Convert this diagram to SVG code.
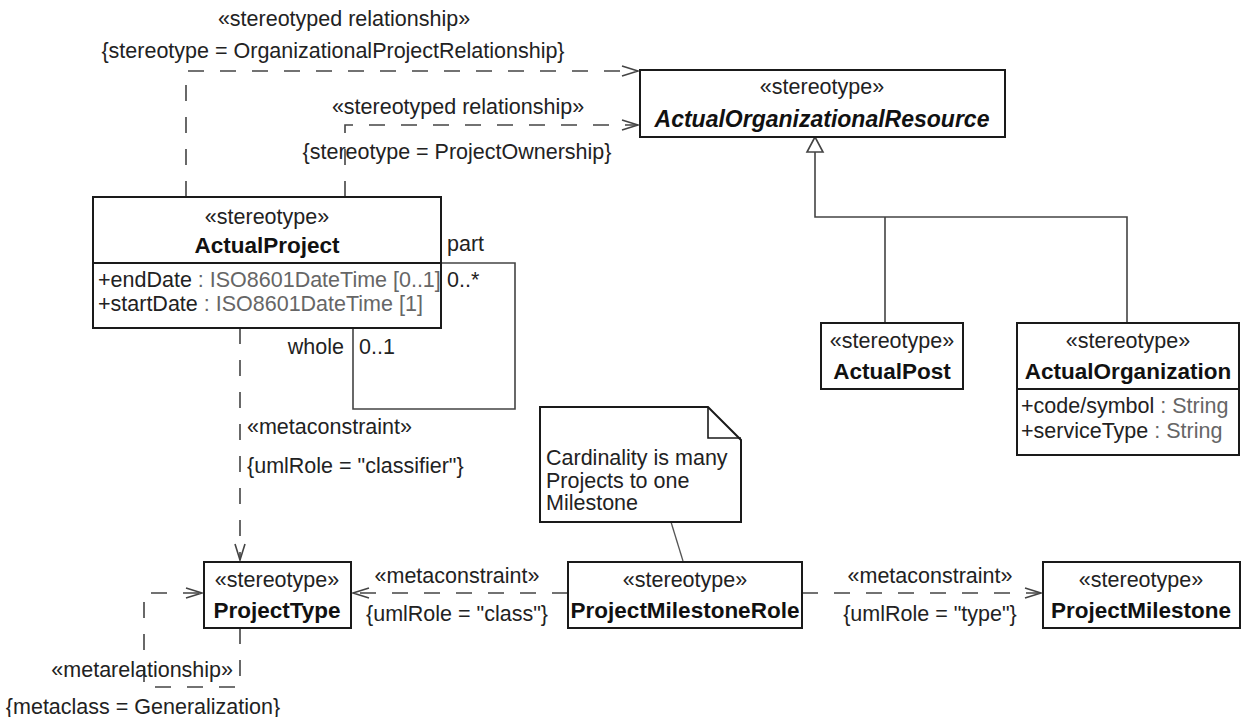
<svg xmlns="http://www.w3.org/2000/svg" width="1247" height="717" viewBox="0 0 1247 717">
<style>
text{font-family:"Liberation Sans",Arial,sans-serif;font-size:21.5px;fill:#222}
.m{text-anchor:middle}
.e{text-anchor:end}
.b{font-weight:bold;font-size:22.5px;fill:#111}
.bi{font-weight:bold;font-style:italic;font-size:23px;fill:#111}
.t{fill:#666}
.box{fill:#fff;stroke:#1a1a1a;stroke-width:2}
.div{stroke:#1a1a1a;stroke-width:2;fill:none}
.dash{fill:none;stroke:#444;stroke-width:1.6;stroke-dasharray:16 16}
.solid{fill:none;stroke:#444;stroke-width:1.6}
</style>
<defs>
<marker id="open" markerUnits="userSpaceOnUse" viewBox="0 0 18 12" refX="17" refY="6" markerWidth="18" markerHeight="12" orient="auto">
<path d="M1,1 L17,6 L1,11" fill="none" stroke="#444" stroke-width="1.6"/>
</marker>
</defs>
<rect width="1247" height="717" fill="#fff"/>
<g id="connectors">
<path class="dash" d="M186,197 V71 H638" marker-end="url(#open)"/>
<path class="dash" d="M345,197 V125 H638" marker-end="url(#open)"/>
<path class="solid" d="M441,263 H515 V409 H353 V328"/>
<path class="dash" d="M240,328 V560" marker-end="url(#open)"/>
<path class="dash" d="M568,593 H353" marker-end="url(#open)"/>
<path class="dash" d="M802,593 H1041" marker-end="url(#open)"/>
<path class="dash" d="M240,628 V687 H144 V593 H202" marker-end="url(#open)"/>
<path class="solid" d="M815,152 V217 H1127 V323 M885,217 V323"/>
<polygon points="815,137 807,152 823,152" fill="#fff" stroke="#444" stroke-width="1.6"/>
<path d="M671,522 L683,561" stroke="#555" stroke-width="1.3" fill="none"/>
<text class="m" x="344" y="26">«stereotyped relationship»</text>
<text class="m" x="333" y="58">{stereotype = OrganizationalProjectRelationship}</text>
<text class="m" x="458" y="114">«stereotyped relationship»</text>
<text class="m" x="457" y="159">{stereotype = ProjectOwnership}</text>
<text x="447" y="251">part</text>
<text x="447" y="287">0..*</text>
<text class="e" x="344" y="354">whole</text>
<text x="359" y="354">0..1</text>
<text x="247" y="434">«metaconstraint»</text>
<text x="247" y="473">{umlRole = "classifier"}</text>
<text class="m" x="457" y="583">«metaconstraint»</text>
<text class="m" x="457" y="621">{umlRole = "class"}</text>
<text class="m" x="930" y="583">«metaconstraint»</text>
<text class="m" x="930" y="621">{umlRole = "type"}</text>
<text class="e" x="233" y="677">«metarelationship»</text>
<text class="m" x="143" y="714">{metaclass = Generalization}</text>
</g>
<g id="ActualOrganizationalResource">
<rect class="box" x="640" y="70" width="365" height="67"/>
<text class="m" x="822" y="94">«stereotype»</text>
<text class="m bi" x="822" y="127">ActualOrganizationalResource</text>
</g>
<g id="ActualProject">
<rect class="box" x="93" y="197" width="348" height="131"/>
<line class="div" x1="93" y1="263" x2="441" y2="263"/>
<text class="m" x="267" y="224">«stereotype»</text>
<text class="m b" x="267" y="253">ActualProject</text>
<text x="98" y="287">+endDate<tspan class="t"> : ISO8601DateTime [0..1]</tspan></text>
<text x="98" y="311">+startDate<tspan class="t"> : ISO8601DateTime [1]</tspan></text>
</g>
<g id="ActualPost">
<rect class="box" x="821" y="323" width="142" height="66"/>
<text class="m" x="892" y="348">«stereotype»</text>
<text class="m b" x="892" y="379">ActualPost</text>
</g>
<g id="ActualOrganization">
<rect class="box" x="1017" y="323" width="222" height="132"/>
<line class="div" x1="1017" y1="389" x2="1239" y2="389"/>
<text class="m" x="1128" y="348">«stereotype»</text>
<text class="m b" x="1128" y="379">ActualOrganization</text>
<text x="1021" y="413">+code/symbol<tspan class="t"> : String</tspan></text>
<text x="1021" y="438">+serviceType<tspan class="t"> : String</tspan></text>
</g>
<g id="note">
<path d="M540,407 H708 L741,440 V522 H540 Z" fill="#fff" stroke="#1a1a1a" stroke-width="2"/>
<path d="M708,407 V438 H741" fill="none" stroke="#1a1a1a" stroke-width="1.6"/>
<text x="546" y="465">Cardinality is many</text>
<text x="546" y="488">Projects to one</text>
<text x="546" y="510">Milestone</text>
</g>
<g id="ProjectType">
<rect class="box" x="204" y="562" width="147" height="66"/>
<text class="m" x="277" y="587">«stereotype»</text>
<text class="m b" x="277" y="618">ProjectType</text>
</g>
<g id="ProjectMilestoneRole">
<rect class="box" x="568" y="562" width="234" height="66"/>
<text class="m" x="685" y="587">«stereotype»</text>
<text class="m b" x="685" y="618">ProjectMilestoneRole</text>
</g>
<g id="ProjectMilestone">
<rect class="box" x="1043" y="562" width="197" height="66"/>
<text class="m" x="1141" y="587">«stereotype»</text>
<text class="m b" x="1141" y="618">ProjectMilestone</text>
</g>
</svg>
